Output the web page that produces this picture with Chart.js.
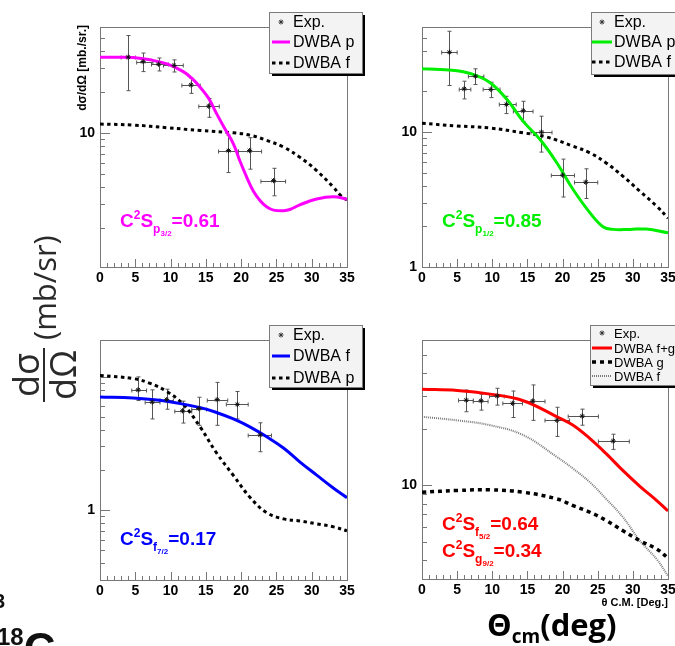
<!DOCTYPE html>
<html><head><meta charset="utf-8">
<script src="https://cdn.jsdelivr.net/npm/chart.js@4.4.1/dist/chart.umd.min.js"></script>
<style>
html,body{margin:0;padding:0;background:#fff;}
#root{position:relative;width:675px;height:646px;overflow:hidden;background:#fff;}
canvas{position:absolute;}
.ann{position:absolute;font-family:'Liberation Sans',Arial,sans-serif;font-weight:bold;font-size:19px;line-height:19px;white-space:nowrap;}
.sp{position:relative;top:-8px;font-size:12px;}
.sb{position:relative;top:6px;font-size:12px;}
.sb2{position:relative;top:3px;font-size:8px;}
.rot{position:absolute;transform:rotate(-90deg);transform-origin:0 0;white-space:nowrap;}
#ytitle{left:76px;top:121px;width:96px;height:13px;font:bold 12px/13px 'Liberation Sans',Arial,sans-serif;text-align:right;color:#000;}
#bigY{left:10px;top:402px;width:180px;height:67px;display:flex;align-items:center;color:#2a2a2a;font-family:'Open Sans',sans-serif;}
#bigY .frac{display:flex;flex-direction:column;align-items:center;}
#bigY .num,#bigY .den{font-size:36px;line-height:31px;}
#bigY .bar{width:54px;height:2px;background:#2a2a2a;margin:2px 0;}
#bigY .unit{font-size:31px;line-height:34px;margin-left:8px;}
#xtitle{position:absolute;left:560px;top:596px;width:108px;text-align:right;font:bold 11px/12px 'Liberation Sans',Arial,sans-serif;}
#bigX{position:absolute;left:487px;top:609px;font-family:'Open Sans',sans-serif;font-weight:bold;font-size:31px;line-height:31px;white-space:nowrap;color:#000;}
#bigX .cm{position:relative;top:7px;font-size:19px;}
.frag{position:absolute;font-family:'Liberation Sans',Arial,sans-serif;font-weight:bold;color:#111;white-space:nowrap;}
</style></head>
<body><div id="root">
<canvas id="c1" width="370" height="300" style="left:0;top:0"></canvas>
<canvas id="c2" width="305" height="300" style="left:370px;top:0"></canvas>
<canvas id="c3" width="370" height="320" style="left:0;top:300px"></canvas>
<canvas id="c4" width="305" height="320" style="left:370px;top:300px"></canvas>

<div class="rot" id="ytitle">dσ/dΩ [mb./sr.]</div>
<div class="rot" id="bigY"><div class="frac"><div class="num">dσ</div><div class="bar"></div><div class="den">dΩ</div></div><div class="unit">(mb/sr)</div></div>

<div class="ann" style="left:120px;top:211px;color:#ff00ff">C<span class="sp">2</span>S<span class="sb">p<span class="sb2">3/2</span></span>=0.61</div>
<div class="ann" style="left:442px;top:211px;color:#00ee00">C<span class="sp">2</span>S<span class="sb">p<span class="sb2">1/2</span></span>=0.85</div>
<div class="ann" style="left:120px;top:529px;color:#0000ff">C<span class="sp">2</span>S<span class="sb">f<span class="sb2">7/2</span></span>=0.17</div>
<div class="ann" style="left:442px;top:514px;color:#ff0000">C<span class="sp">2</span>S<span class="sb">f<span class="sb2">5/2</span></span>=0.64</div>
<div class="ann" style="left:442px;top:541px;color:#ff0000">C<span class="sp">2</span>S<span class="sb">g<span class="sb2">9/2</span></span>=0.34</div>

<div id="xtitle">θ C.M. [Deg.]</div>
<div id="bigX">Θ<span class="cm">cm</span>(deg)</div>
<div class="frag" style="left:-6px;top:590px;font-size:20px;">3</div>
<div class="frag" style="left:-3px;top:627px;font-size:44px;line-height:44px;"><span style="font-size:24px;position:relative;top:-19px">18</span>C</div>
</div>
<script>
// ---------- axis ticks ----------
const X_TICKS = [0,1,2,3,4,5,6,7,8,9,10,11,12,13,14,15,16,17,18,19,20,21,22,23,24,25,26,27,28,29,30,31,32,33,34,35];
const X_LABELS = [0,5,10,15,20,25,30,35];
const Y_TICKS_P1 = [2,3,4,5,6,7,8,9,10,20,30,40,50];
const Y_LABELS_P1 = [10];
const Y_TICKS_P2 = [1,2,3,4,5,6,7,8,9,10,20,30,40,50];
const Y_LABELS_P2 = [1,10];
const Y_TICKS_P3 = [0.4,0.5,0.6,0.7,0.8,0.9,1,2,3,4,5,6,7,8,9,10];
const Y_LABELS_P3 = [1];
const Y_TICKS_P4 = [4,5,6,7,8,9,10,20,30,40,50];
const Y_LABELS_P4 = [10];

// ---------- panel 1 : p3/2 ----------
const p1ExpAngle     = [4.0, 6.1, 8.3, 10.5, 12.9, 15.4, 18.2, 21.2, 24.6];
const p1ExpSigma     = [36.0, 33.4, 32.0, 31.3, 22.5, 15.7, 7.4, 7.4, 4.45];
const p1ExpSigmaLow  = [20.4, 28.2, 28.5, 28.0, 19.5, 13.0, 5.1, 5.4, 3.44];
const p1ExpSigmaHigh = [51.9, 38.6, 35.5, 34.4, 25.2, 17.9, 9.6, 9.2, 5.48];
const p1ExpAngleLow  = [3.0, 5.2, 7.3, 9.0, 11.6, 14.0, 16.8, 19.6, 22.8];
const p1ExpAngleHigh = [5.0, 7.5, 9.7, 11.8, 14.2, 16.9, 19.6, 22.9, 26.3];
const p1DwbaPAngle = [0, 2.5, 4.7, 7.1, 9.5, 11.8, 13.0, 14.2, 15.4, 16.5, 17.7, 18.9, 19.8, 20.8, 21.7, 22.7, 23.6, 24.6, 26.0, 27.0, 28.3, 30.7, 33.1, 35];
const p1DwbaPSigma = [36.0, 36.0, 35.8, 34.4, 32.1, 28.2, 25.2, 21.6, 17.9, 13.9, 10.7, 8.3, 6.25, 4.7, 3.75, 3.16, 2.86, 2.70, 2.67, 2.74, 2.95, 3.26, 3.39, 3.25];
const p1DwbaFAngle = [0, 4.7, 9.5, 14.2, 18.9, 21.3, 23.6, 26.0, 28.3, 30.7, 33.1, 34.0, 35];
const p1DwbaFSigma = [11.6, 11.4, 10.9, 10.4, 10.0, 9.6, 8.8, 7.85, 6.62, 5.27, 3.97, 3.5, 3.2];

// ---------- panel 2 : p1/2 ----------
const p2ExpAngle     = [3.9, 6.0, 7.6, 9.8, 12.0, 14.4, 17.0, 20.0, 23.3];
const p2ExpSigma     = [39.0, 20.9, 25.9, 20.7, 16.0, 14.4, 10.0, 4.8, 4.25];
const p2ExpSigmaLow  = [22.1, 17.6, 22.5, 18.0, 13.7, 12.0, 7.1, 3.3, 3.22];
const p2ExpSigmaHigh = [55.8, 23.8, 29.4, 23.4, 18.4, 16.9, 13.1, 6.3, 5.34];
const p2ExpAngleLow  = [2.8, 5.3, 6.6, 8.7, 11.0, 13.0, 15.5, 18.4, 21.7];
const p2ExpAngleHigh = [5.0, 6.95, 8.8, 11.1, 13.4, 15.8, 18.5, 21.7, 25.0];
const p2DwbaPAngle = [0, 2.6, 5.0, 7.35, 9.7, 12.1, 14.4, 16.8, 19.2, 21.5, 23.9, 25.8, 27.2, 29.6, 31.9, 35];
const p2DwbaPSigma = [29.4, 29.0, 28.4, 26.6, 23.2, 17.4, 12.0, 8.8, 5.9, 3.75, 2.52, 1.98, 1.90, 1.90, 1.91, 1.79];
const p2DwbaFAngle = [0, 5.0, 9.7, 14.4, 17.7, 21.5, 23.9, 26.2, 28.6, 31.0, 33.4, 35];
const p2DwbaFSigma = [11.6, 11.1, 10.7, 9.86, 9.2, 7.85, 7.0, 5.9, 4.7, 3.64, 2.82, 2.3];

// ---------- panel 3 : f7/2 ----------
const p3ExpAngle     = [5.4, 7.4, 9.45, 11.7, 14.0, 16.6, 19.45, 22.7];
const p3ExpSigma     = [7.96, 6.45, 6.73, 5.55, 5.77, 6.73, 6.19, 3.66];
const p3ExpSigmaLow  = [6.62, 4.82, 5.70, 4.49, 4.32, 4.32, 4.82, 2.74];
const p3ExpSigmaHigh = [9.95, 7.96, 8.05, 6.55, 7.01, 9.05, 7.74, 4.51];
const p3ExpAngleLow  = [4.5, 6.4, 8.5, 10.6, 13.0, 15.2, 17.9, 21.0];
const p3ExpAngleHigh = [6.6, 8.5, 10.4, 13.0, 15.1, 18.1, 21.0, 24.3];
const p3DwbaFAngle = [0, 4.7, 9.45, 14.2, 16.5, 18.9, 21.3, 23.6, 26.0, 28.3, 30.7, 33.1, 35];
const p3DwbaFSigma = [7.04, 6.92, 6.55, 5.86, 5.39, 4.82, 4.19, 3.55, 2.92, 2.30, 1.83, 1.46, 1.24];
const p3DwbaPAngle = [0, 4.7, 7.1, 9.45, 11.8, 14.2, 16.5, 18.9, 21.3, 23.6, 26.0, 28.3, 30.7, 33.1, 35];
const p3DwbaPSigma = [10.2, 9.67, 8.9, 7.74, 6.19, 4.19, 2.69, 1.82, 1.24, 0.96, 0.86, 0.83, 0.79, 0.75, 0.70];

// ---------- panel 4 : f5/2 + g9/2 ----------
const p4ExpAngle     = [6.3, 8.4, 10.7, 12.9, 15.75, 19.2, 22.8, 27.2];
const p4ExpSigma     = [28.6, 28.4, 30.1, 27.5, 28.3, 22.3, 23.5, 17.3];
const p4ExpSigmaLow  = [24.8, 25.3, 26.9, 23.1, 22.3, 18.3, 21.0, 15.6];
const p4ExpSigmaHigh = [32.4, 30.8, 33.1, 32.0, 34.5, 26.2, 25.6, 18.8];
const p4ExpAngleLow  = [5.2, 7.3, 9.6, 11.5, 14.3, 17.5, 20.8, 25.1];
const p4ExpAngleHigh = [7.3, 9.4, 11.7, 14.3, 17.5, 21.0, 25.1, 29.5];
const p4CurveAngle = [0, 5.0, 9.7, 14.4, 19.2, 21.5, 23.9, 26.2, 28.6, 31.0, 33.4, 35];
const p4DwbaFGSigma = [32.7, 32.2, 30.8, 28.4, 23.3, 21.0, 17.8, 14.8, 12.0, 9.9, 8.3, 7.3];
const p4DwbaGSigma  = [9.2, 9.4, 9.48, 9.2, 8.47, 7.8, 7.19, 6.5, 5.73, 5.06, 4.57, 4.09];
const p4DwbaFSigma  = [23.3, 22.3, 21.0, 18.6, 14.2, 12.3, 10.4, 8.47, 6.76, 5.06, 4.03, 3.28];

// ---------- helpers ----------
function pts(xs, ys) { return xs.map((x, i) => ({x: x, y: ys[i]})); }
const DOT = [3.5, 3.5];

const rootPlugin = {
  id: 'rootStyle',
  beforeDatasetsDraw(chart) {
    const {ctx, chartArea: a, scales} = chart;
    const sx = scales.x, sy = scales.y;
    ctx.save();
    ctx.strokeStyle = '#777'; ctx.lineWidth = 1; ctx.setLineDash([]);
    ctx.strokeRect(a.left + 0.5, a.top + 0.5, a.right - a.left, a.bottom - a.top);
    sx.ticks.forEach(t => {
      const px = Math.round(sx.getPixelForValue(t.value)) + 0.5;
      const len = X_LABELS.includes(t.value) ? 8 : 4;
      ctx.beginPath(); ctx.moveTo(px, a.bottom); ctx.lineTo(px, a.bottom - len); ctx.stroke();
    });
    sy.ticks.forEach(t => {
      const py = Math.round(sy.getPixelForValue(t.value)) + 0.5;
      const lg = Math.log10(t.value);
      const len = Math.abs(lg - Math.round(lg)) < 1e-9 ? 10 : 5;
      ctx.beginPath(); ctx.moveTo(a.left, py); ctx.lineTo(a.left + len, py); ctx.stroke();
    });
    // error bars
    ctx.strokeStyle = '#555'; ctx.lineWidth = 1;
    chart.data.datasets.forEach(ds => {
      if (!ds.errYlo) return;
      ds.data.forEach((p, i) => {
        const px = Math.round(sx.getPixelForValue(p.x)) + 0.5;
        const py = Math.round(sy.getPixelForValue(p.y)) + 0.5;
        const xl = sx.getPixelForValue(ds.errXlo[i]), xh = sx.getPixelForValue(ds.errXhi[i]);
        const yl = sy.getPixelForValue(ds.errYlo[i]), yh = sy.getPixelForValue(ds.errYhi[i]);
        ctx.beginPath();
        ctx.moveTo(xl, py); ctx.lineTo(xh, py);
        ctx.moveTo(px, yl); ctx.lineTo(px, yh);
        ctx.moveTo(px - 2, yl); ctx.lineTo(px + 2, yl);
        ctx.moveTo(px - 2, yh); ctx.lineTo(px + 2, yh);
        ctx.moveTo(xl, py - 2); ctx.lineTo(xl, py + 2);
        ctx.moveTo(xh, py - 2); ctx.lineTo(xh, py + 2);
        ctx.stroke();
      });
    });
    ctx.restore();
  },
  afterDraw(chart, args, opts) {
    const L = opts.legend; if (!L) return;
    const ctx = chart.ctx;
    const [bx, by, bw, bh] = L.box;
    ctx.save();
    ctx.setLineDash([]);
    ctx.fillStyle = '#000';
    ctx.fillRect(bx + 3, by + bh, bw, 3);
    ctx.fillRect(bx + bw, by + 3, 3, bh);
    ctx.fillStyle = '#f3f3f3';
    ctx.fillRect(bx, by, bw, bh);
    ctx.strokeStyle = '#7c7c7c'; ctx.lineWidth = 1;
    ctx.strokeRect(bx + 0.5, by + 0.5, bw, bh);
    ctx.font = L.size + 'px "Liberation Sans", Arial, sans-serif';
    ctx.textBaseline = 'middle';
    L.rows.forEach((ry, k) => {
      const ds = chart.data.datasets[k];
      if (!ds.showLine) {
        const cx = (L.sample[0] + L.sample[1]) / 2, r = 2.5;
        ctx.strokeStyle = '#333'; ctx.lineWidth = 1; ctx.setLineDash([]);
        ctx.beginPath();
        ctx.moveTo(cx - r, ry); ctx.lineTo(cx + r, ry);
        ctx.moveTo(cx, ry - r); ctx.lineTo(cx, ry + r);
        ctx.moveTo(cx - r * 0.7, ry - r * 0.7); ctx.lineTo(cx + r * 0.7, ry + r * 0.7);
        ctx.moveTo(cx - r * 0.7, ry + r * 0.7); ctx.lineTo(cx + r * 0.7, ry - r * 0.7);
        ctx.stroke();
      } else {
        ctx.strokeStyle = ds.borderColor; ctx.lineWidth = ds.borderWidth;
        ctx.setLineDash(ds.borderDash || []);
        ctx.beginPath(); ctx.moveTo(L.sample[0], ry); ctx.lineTo(L.sample[1], ry); ctx.stroke();
      }
      ctx.setLineDash([]);
      ctx.fillStyle = '#000';
      ctx.fillText(ds.label, L.textX, ry + 1);
    });
    ctx.restore();
  }
};

function expSet(ax, sg, sl, sh, al, ah) {
  return {label: 'Exp.', data: pts(ax, sg), showLine: false, pointStyle: 'star', pointRadius: 2.6,
    pointBorderWidth: 1, borderColor: '#111', backgroundColor: '#111', order: 0,
    errYlo: sl, errYhi: sh, errXlo: al, errXhi: ah};
}
function curve(label, ax, sg, color, width, dash) {
  return {label: label, data: pts(ax, sg), showLine: true, pointRadius: 0, borderColor: color,
    borderWidth: width, borderDash: dash || [], borderCapStyle: 'butt', tension: 0.4, fill: false, order: 1};
}

function makePanel(id, P) {
  const tickFont = {family: "'Liberation Sans', Arial, sans-serif", size: 14, weight: 'bold'};
  return new Chart(document.getElementById(id), {
    type: 'scatter',
    data: {datasets: P.datasets},
    options: {
      responsive: false, animation: false, devicePixelRatio: 1,
      layout: {padding: P.pad},
      plugins: {legend: {display: false}, tooltip: {enabled: false}, rootStyle: {legend: P.legend}},
      scales: {
        x: {type: 'linear', min: 0, max: 35,
          grid: {display: false, drawTicks: false, tickLength: 0}, border: {display: false},
          ticks: {autoSkip: false, maxRotation: 0, minRotation: 0, padding: 3, color: '#000', font: tickFont,
            callback: v => X_LABELS.includes(v) ? String(v) : ''},
          afterBuildTicks: s => { s.ticks = X_TICKS.map(v => ({value: v})); },
          afterFit: s => { s.height = P.xH; s.paddingLeft = 0; s.paddingRight = 0; }},
        y: {type: 'logarithmic', min: P.ymin, max: P.ymax,
          grid: {display: false, drawTicks: false, tickLength: 0}, border: {display: false},
          ticks: {autoSkip: false, padding: 5, color: '#000', font: tickFont,
            callback: v => P.yLabels.includes(v) ? String(v) : ''},
          afterBuildTicks: s => { s.ticks = P.yTicks.map(v => ({value: v})); },
          afterFit: s => { s.width = P.yW; s.paddingTop = 0; s.paddingBottom = 0; }}
      }
    },
    plugins: [rootPlugin]
  });
}

makePanel('c1', {
  datasets: [
    expSet(p1ExpAngle, p1ExpSigma, p1ExpSigmaLow, p1ExpSigmaHigh, p1ExpAngleLow, p1ExpAngleHigh),
    curve('DWBA p', p1DwbaPAngle, p1DwbaPSigma, '#ff00ff', 3),
    curve('DWBA f', p1DwbaFAngle, p1DwbaFSigma, '#000', 3, DOT)
  ],
  pad: {left: 0, top: 27, right: 23, bottom: 0}, yW: 100, xH: 33,
  ymin: 1.03, ymax: 60, yTicks: Y_TICKS_P1, yLabels: Y_LABELS_P1,
  legend: {box: [269, 12, 93, 61], rows: [22, 42, 63], textX: 293, sample: [272, 290], size: 16}
});
makePanel('c2', {
  datasets: [
    expSet(p2ExpAngle, p2ExpSigma, p2ExpSigmaLow, p2ExpSigmaHigh, p2ExpAngleLow, p2ExpAngleHigh),
    curve('DWBA p', p2DwbaPAngle, p2DwbaPSigma, '#00ee00', 3),
    curve('DWBA f', p2DwbaFAngle, p2DwbaFSigma, '#000', 3, DOT)
  ],
  pad: {left: 0, top: 27, right: 7, bottom: 0}, yW: 52, xH: 33,
  ymin: 1, ymax: 60, yTicks: Y_TICKS_P2, yLabels: Y_LABELS_P2,
  legend: {box: [221, 12, 100, 62], rows: [22, 42, 62], textX: 244, sample: [222, 242], size: 16}
});
makePanel('c3', {
  datasets: [
    expSet(p3ExpAngle, p3ExpSigma, p3ExpSigmaLow, p3ExpSigmaHigh, p3ExpAngleLow, p3ExpAngleHigh),
    curve('DWBA f', p3DwbaFAngle, p3DwbaFSigma, '#0000ff', 3),
    curve('DWBA p', p3DwbaPAngle, p3DwbaPSigma, '#000', 3, DOT)
  ],
  pad: {left: 0, top: 40, right: 23, bottom: 0}, yW: 100, xH: 40,
  ymin: 0.344, ymax: 18.8, yTicks: Y_TICKS_P3, yLabels: Y_LABELS_P3,
  legend: {box: [269, 25, 93, 62], rows: [35, 56, 78], textX: 293, sample: [272, 290], size: 16}
});
makePanel('c4', {
  datasets: [
    expSet(p4ExpAngle, p4ExpSigma, p4ExpSigmaLow, p4ExpSigmaHigh, p4ExpAngleLow, p4ExpAngleHigh),
    curve('DWBA f+g', p4CurveAngle, p4DwbaFGSigma, '#ff0000', 3),
    curve('DWBA g', p4CurveAngle, p4DwbaGSigma, '#000', 3.5, [4, 4]),
    curve('DWBA f', p4CurveAngle, p4DwbaFSigma, '#7a7a7a', 2, [1, 1])
  ],
  pad: {left: 0, top: 40, right: 7, bottom: 0}, yW: 52, xH: 41,
  ymin: 3.16, ymax: 60, yTicks: Y_TICKS_P4, yLabels: Y_LABELS_P4,
  legend: {box: [220, 25, 100, 60], rows: [33, 48, 62, 76], textX: 244, sample: [222, 242], size: 13}
});
</script>
</body></html>
